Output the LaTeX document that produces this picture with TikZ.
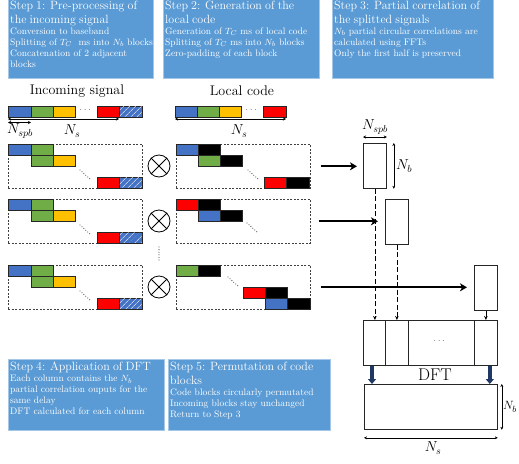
\documentclass[tikz,border=0pt]{standalone}
\usepackage{amsmath}
\usepackage{tikz}
\usetikzlibrary{arrows.meta,calc,patterns.meta,positioning}

\definecolor{stepblue}{HTML}{5B9BD5}
\definecolor{cblue}{HTML}{4472C4}
\definecolor{cgreen}{HTML}{70AD47}
\definecolor{cyellow}{HTML}{FFC000}
\definecolor{cred}{HTML}{FF0000}
\definecolor{navy}{HTML}{1F3864}

\tikzset{
  stepbox/.style={fill=stepblue, draw=stepblue!55!white, line width=0.8pt},
  steptext/.style={anchor=north west, text=white, align=left, inner sep=1pt,
    font=\fontsize{9.5}{11}\selectfont},
  blk/.style={draw=black!85, line width=0.5pt},
  hatch/.style={pattern={Lines[angle=45,distance=4pt,line width=0.6pt]}, pattern color=white},
  rowbox/.style={draw=black!75, dash pattern=on 2pt off 1.5pt, line width=0.6pt,
    minimum width=134pt, minimum height=44pt, anchor=north west, inner sep=0pt},
  colbox/.style={draw=black!85, line width=0.8pt, minimum width=23pt, minimum height=45pt,
    inner sep=0pt, anchor=north west},
  dim/.style={{Stealth[length=3pt,width=3pt]}-{Stealth[length=3pt,width=3pt]}, line width=0.5pt},
  dimlbl/.style={font=\fontsize{14}{16}\selectfont, inner sep=1pt},
  feed/.style={-{Stealth[length=7pt,width=8pt,inset=2pt]}, line width=1.8pt},
  drop/.style={-{Stealth[length=4pt,width=3.5pt]}, line width=0.7pt},
  mult/.style={circle, draw, line width=0.8pt, minimum size=22pt, inner sep=0pt},
  fat/.style={-{Triangle[length=5pt,width=8pt]}, line width=3.5pt, draw=navy},
  gdots/.style={black!55, line width=1.3pt, line cap=round, dash pattern=on 0pt off 2.6pt},
  hdots/.style={black!55, font=\normalsize},
}

\newcommand{\sttl}[1]{{\fontsize{12}{13.5}\selectfont #1\par}}

\begin{document}
\begin{tikzpicture}[x=1pt,y=-1pt]
  \useasboundingbox (0,0) rectangle (519,463);

  % step boxes
  \draw[stepbox] (8,-1) rectangle (153,78);
  \node[steptext, text width=143pt] (st1) at (9,0)
    {\sttl{Step 1: Pre-processing of\\the incoming signal}Conversion to baseband\\
     Splitting of $T_C$~ ms into $N_b$ blocks\\Concatenation of 2 adjacent\\blocks};
  \draw[stepbox] (163,-1) rectangle (319,78);
  \node[steptext, text width=154pt] (st2) at (164,0)
    {\sttl{Step 2: Generation of the\\local code}Generation of $T_C$ ms of local code\\
     Splitting of $T_C$ ms into $N_b$ blocks\\Zero-padding of each block};
  \draw[stepbox] (332,-1) rectangle (493,78);
  \node[steptext, text width=159pt] (st3) at (333,0)
    {\sttl{Step 3: Partial correlation of\\the splitted signals}$N_b$ partial circular correlations are\\
     calculated using FFTs\\Only the first half is preserved};
  \draw[stepbox] (8,359) rectangle (164,430);
  \node[steptext, text width=154pt] (st4) at (9,361)
    {\sttl{Step 4: Application of DFT}Each column contains the $N_b$\\
     partial correlation ouputs for the\\same delay\\DFT calculated for each column};
  \draw[stepbox] (168,359) rectangle (330,430);
  \node[steptext, text width=160pt] (st5) at (169,361)
    {\sttl{Step 5: Permutation of code\\blocks}Code blocks circularly permutated\\
     Incoming blocks stay unchanged\\Return to Step 3};

  % incoming signal
  \node[font=\fontsize{14}{16}\selectfont] (intit) at (77,91) {Incoming signal};
  \filldraw[blk, fill=cblue] (8,106) rectangle (31,117);
  \filldraw[blk, fill=cgreen] (31,106) rectangle (53,117);
  \filldraw[blk, fill=cyellow] (53,106) rectangle (75,117);
  \node[hdots] (indots) at (86,110) {$\cdots$};
  \filldraw[blk, fill=cred] (97,106) rectangle (119,117);
  \filldraw[blk, fill=cblue] (119,106) rectangle (142,117);
  \fill[hatch] (119.5,106.5) rectangle (141.5,116.5);
  \coordinate (insL) at (8,119);
  \coordinate (insR) at (119,119);
  \draw[dim] (insL) -- (insR);
  \coordinate (spbL) at (8,122.5);
  \coordinate (spbR) at (31,122.5);
  \draw[dim] (spbL) -- (spbR);
  \node[dimlbl] (inspb) at (20,131) {$N_{spb}$};
  \node[dimlbl] (inNs) at (72,131) {$N_s$};

  % local code
  \node[font=\fontsize{14}{16}\selectfont] (loctit) at (242,91) {Local code};
  \filldraw[blk, fill=cblue] (175,106) rectangle (197,117);
  \filldraw[blk, fill=cgreen] (197,106) rectangle (219,117);
  \filldraw[blk, fill=cyellow] (219,106) rectangle (241,117);
  \node[hdots] (locdots) at (252,110) {$\cdots$};
  \filldraw[blk, fill=cred] (263,106) rectangle (286,117);
  \coordinate (locL) at (175,119);
  \coordinate (locR) at (286,119);
  \draw[dim] (locL) -- (locR);
  \node[dimlbl] (locNs) at (239,131) {$N_s$};

  % incoming rows
  \foreach \y/\i in {144/1,199/2,265/3} {
    \node[rowbox] (inc\i) at (8,\y) {};
    \filldraw[blk, fill=cblue] (8,\y) rectangle ++(23,11);
    \filldraw[blk, fill=cgreen] (31,\y) rectangle ++(22,11);
    \filldraw[blk, fill=cgreen] (31,\y+11) rectangle ++(22,11);
    \filldraw[blk, fill=cyellow] (53,\y+11) rectangle ++(22,11);
    \draw[gdots] (80,\y+26) -- (90,\y+35);
    \filldraw[blk, fill=cred] (97,\y+33) rectangle ++(22,11);
    \filldraw[blk, fill=cblue] (119,\y+33) rectangle ++(23,11);
    \fill[hatch] (119.5,\y+33.5) rectangle (141.5,\y+43.5);
    \node[mult] (m\i) at (159,\y+22) {};
    \draw[line width=0.8pt] (m\i.north west) -- (m\i.south east);
    \draw[line width=0.8pt] (m\i.north east) -- (m\i.south west);
    \node[rowbox] (loc\i) at (176,\y) {};
  }
  \draw[gdots] (159,247) -- (159,261);

  % local rows
  \filldraw[blk, fill=cblue] (176,144) rectangle ++(22,11);
  \filldraw[blk, fill=black] (198,144) rectangle ++(22,11);
  \filldraw[blk, fill=cgreen] (198,155) rectangle ++(22,11);
  \filldraw[blk, fill=black] (220,155) rectangle ++(22,11);
  \draw[gdots] (248,170) -- (258,179);
  \filldraw[blk, fill=cred] (264,177) rectangle ++(22,11);
  \filldraw[blk, fill=black] (286,177) rectangle ++(23,11);

  \filldraw[blk, fill=cred] (176,199) rectangle ++(22,11);
  \filldraw[blk, fill=black] (198,199) rectangle ++(22,11);
  \filldraw[blk, fill=cblue] (198,210) rectangle ++(22,11);
  \filldraw[blk, fill=black] (220,210) rectangle ++(22,11);
  \draw[gdots] (247,223) -- (257,232);

  \filldraw[blk, fill=cgreen] (176,265) rectangle ++(22,11);
  \filldraw[blk, fill=black] (198,265) rectangle ++(22,11);
  \draw[gdots] (228,277) -- (238,286);
  \filldraw[blk, fill=cred] (243,287) rectangle ++(22,11);
  \filldraw[blk, fill=black] (265,287) rectangle ++(22,11);
  \filldraw[blk, fill=cblue] (265,298) rectangle ++(22,11);
  \filldraw[blk, fill=black] (287,298) rectangle ++(23,11);

  % correlation columns
  \node[colbox] (col1) at (363,143) {};
  \node[colbox] (col2) at (385,199) {};
  \node[colbox] (col3) at (474,265) {};
  \draw[feed] ([xshift=10pt]loc1.east) -- ($(loc1.east -| col1.west)+(-6,0)$);
  \draw[feed] ([xshift=8pt]loc2.east) -- ($(loc2.east -| col2.west)+(-7,0)$);
  \draw[feed] ([xshift=10pt]loc3.east) -- ($(loc3.east -| col3.west)+(-7,0)$);
  \draw[dim] ([yshift=6pt]col1.north west) -- ([yshift=6pt]col1.north east);
  \node[dimlbl] (colspb) at (375,127) {$N_{spb}$};
  \draw[dim] ([xshift=7pt]col1.north east) -- ([xshift=7pt]col1.south east);
  \node[dimlbl, anchor=west] (colNb) at (395,166) {$N_b$};

  % correlation matrix
  \node[colbox, minimum width=134pt] (mat) at (363,320) {};
  \foreach \dx in {22,45,111}
    \draw[line width=0.8pt, black!85] ([xshift=\dx pt]mat.north west) -- ([xshift=\dx pt]mat.south west);
  \node[hdots] (matdots) at (440,341) {$\cdots$};
  \draw[drop, dash pattern=on 5pt off 2.5pt] (col1.south) -- (col1.south |- mat.north);
  \draw[drop, dash pattern=on 5pt off 2.5pt] (col2.south) -- (col2.south |- mat.north);
  \draw[drop] (col3.south) -- (col3.south |- mat.north);

  % DFT output
  \node[colbox, minimum width=133pt] (res) at (364,384) {};
  \node[font=\fontsize{17}{19}\selectfont] (dft) at (435,375) {DFT};
  \draw[fat] ([xshift=9pt]mat.south west) -- ([xshift=9pt]mat.south west |- res.north);
  \draw[fat] ([xshift=-8pt]mat.south east) -- ([xshift=-8pt]mat.south east |- res.north);
  \draw[dim] ([xshift=4pt]res.north east) -- ([xshift=4pt]res.south east);
  \node[dimlbl, anchor=west, inner sep=0pt, font=\fontsize{13}{15}\selectfont] (resNb) at ($(res.east)+(5,0)$) {$N_b$};
  \draw[dim] ([yshift=-8pt]res.south west) -- ([yshift=-8pt]res.south east);
  \node[dimlbl] (resNs) at (433,448) {$N_s$};
\end{tikzpicture}
\end{document}
